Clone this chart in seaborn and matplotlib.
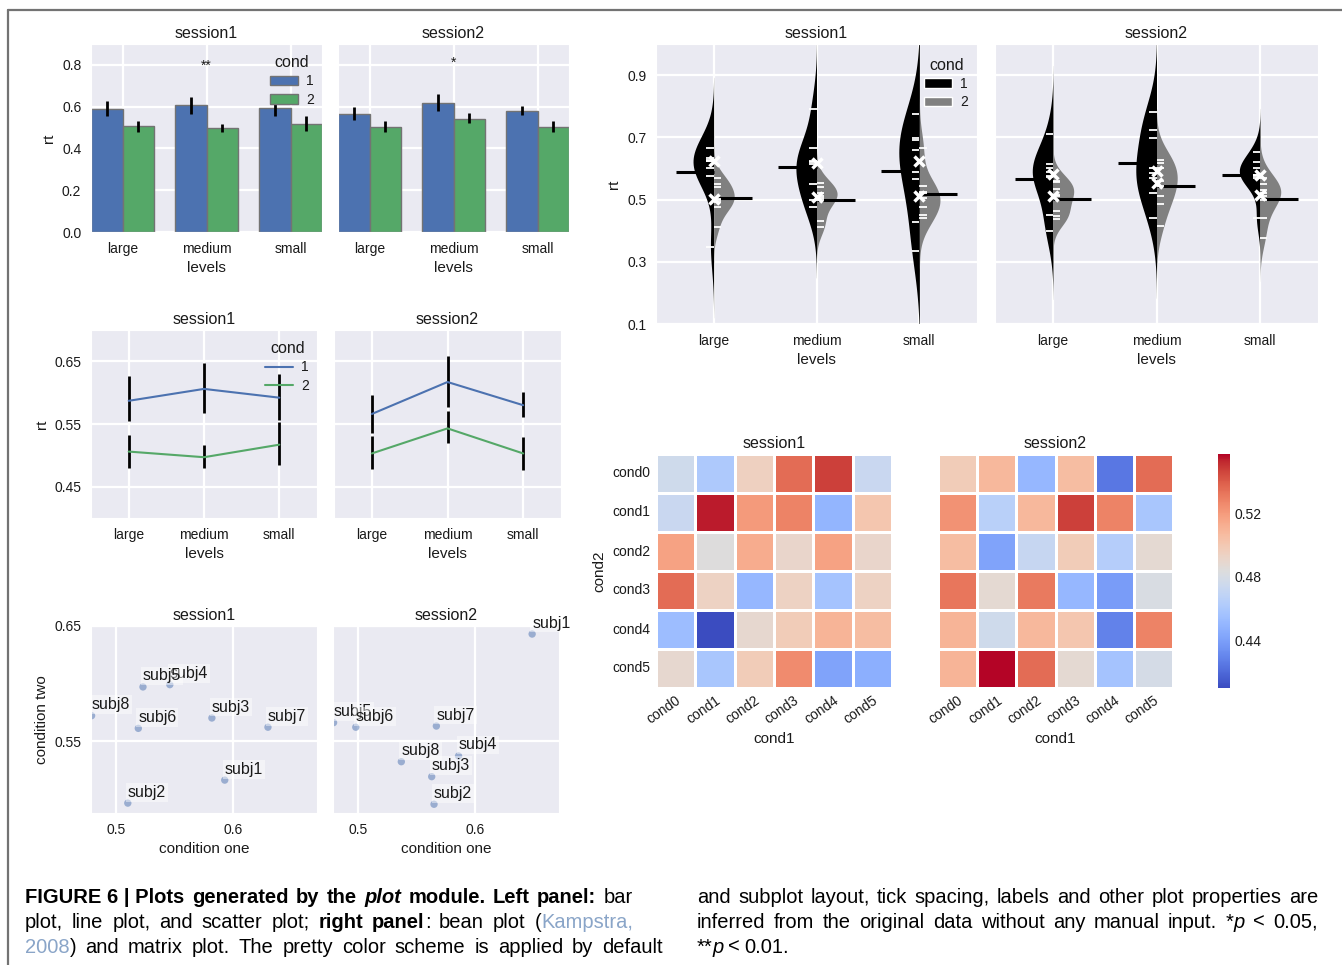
import numpy as np
import pandas as pd
import matplotlib
matplotlib.use("Agg")
import matplotlib.pyplot as plt
import seaborn as sns
from matplotlib.patches import Patch
from matplotlib.lines import Line2D

# ---------------- data ----------------
levels = ["large", "medium", "small"]
conds = ["1", "2"]
sessions = ["session1", "session2"]

# mean rt per level (bar + line plots)
s1_rt_c1 = [0.587, 0.606, 0.592]
s1_rt_c2 = [0.506, 0.497, 0.517]
s2_rt_c1 = [0.566, 0.617, 0.580]
s2_rt_c2 = [0.503, 0.543, 0.503]

# error bar limits
s1_lo_c1 = [0.554, 0.567, 0.556]
s1_hi_c1 = [0.626, 0.647, 0.630]
s1_lo_c2 = [0.480, 0.480, 0.484]
s1_hi_c2 = [0.533, 0.517, 0.553]
s2_lo_c1 = [0.535, 0.577, 0.561]
s2_hi_c1 = [0.597, 0.659, 0.601]
s2_lo_c2 = [0.478, 0.520, 0.477]
s2_hi_c2 = [0.531, 0.570, 0.529]

sig_labels = ["**", "*"]
sig_level = "medium"
sig_y = [0.795, 0.809]

# scatter
subjects = ["subj1", "subj2", "subj3", "subj4", "subj5", "subj6", "subj7", "subj8"]
s1_cond_one = [0.593, 0.510, 0.582, 0.546, 0.523, 0.519, 0.630, 0.4790]
s1_cond_two = [0.516, 0.496, 0.570, 0.599, 0.597, 0.561, 0.562, 0.572]
s2_cond_one = [0.649, 0.565, 0.563, 0.586, 0.4790, 0.498, 0.567, 0.537]
s2_cond_two = [0.643, 0.495, 0.519, 0.537, 0.566, 0.562, 0.563, 0.532]

# bean plot observations
b_s1_large_c1 = [0.665, 0.633, 0.628, 0.625, 0.625, 0.602, 0.575, 0.348]
b_s1_large_c2 = [0.568, 0.551, 0.539, 0.503, 0.498, 0.492, 0.476, 0.413]
b_s1_medium_c1 = [0.790, 0.665, 0.625, 0.620, 0.615, 0.550, 0.500, 0.475]
b_s1_medium_c2 = [0.553, 0.540, 0.520, 0.510, 0.505, 0.500, 0.430, 0.413]
b_s1_small_c1 = [0.775, 0.697, 0.690, 0.660, 0.590, 0.565, 0.428, 0.335]
b_s1_small_c2 = [0.665, 0.545, 0.523, 0.520, 0.506, 0.476, 0.450, 0.440]
b_s2_large_c1 = [0.710, 0.614, 0.600, 0.590, 0.576, 0.572, 0.450, 0.400]
b_s2_large_c2 = [0.560, 0.555, 0.535, 0.515, 0.510, 0.463, 0.448, 0.437]
b_s2_medium_c1 = [0.782, 0.724, 0.697, 0.600, 0.585, 0.570, 0.520, 0.440]
b_s2_medium_c2 = [0.627, 0.617, 0.600, 0.560, 0.545, 0.512, 0.485, 0.414]
b_s2_small_c1 = [0.652, 0.620, 0.600, 0.580, 0.580, 0.576, 0.570, 0.440]
b_s2_small_c2 = [0.568, 0.550, 0.530, 0.522, 0.510, 0.500, 0.442, 0.378]

# matrix plot
cond_labels = ["cond0", "cond1", "cond2", "cond3", "cond4", "cond5"]
hm_s1 = [
    [0.476, 0.461, 0.495, 0.535, 0.547, 0.473],
    [0.473, 0.554, 0.520, 0.528, 0.450, 0.501],
    [0.517, 0.484, 0.513, 0.491, 0.517, 0.491],
    [0.535, 0.494, 0.451, 0.494, 0.457, 0.494],
    [0.454, 0.411, 0.489, 0.498, 0.510, 0.506],
    [0.489, 0.459, 0.498, 0.525, 0.442, 0.447],
]
hm_s2 = [
    [0.498, 0.508, 0.451, 0.506, 0.425, 0.535],
    [0.523, 0.466, 0.508, 0.547, 0.528, 0.459],
    [0.506, 0.442, 0.472, 0.498, 0.464, 0.488],
    [0.532, 0.488, 0.531, 0.451, 0.439, 0.481],
    [0.510, 0.476, 0.508, 0.501, 0.429, 0.528],
    [0.510, 0.557, 0.535, 0.488, 0.457, 0.479],
]
cbar_ticks = [0.44, 0.48, 0.52]

# ---------------- style ----------------
W, H = 1342, 965
sns.set_style("darkgrid", {"axes.facecolor": "#EAEAF2", "grid.color": "white"})
plt.rcParams["font.family"] = ["Liberation Sans", "DejaVu Sans"]
plt.rcParams.update({
    "xtick.labelsize": 10, "ytick.labelsize": 10,
    "axes.labelsize": 11, "axes.titlesize": 11.5, "axes.titlepad": 4.5,
    "grid.linewidth": 1.6, "text.color": "#1a1a1a",
    "axes.labelcolor": "#1a1a1a", "xtick.color": "#1a1a1a", "ytick.color": "#1a1a1a",
})
BLUE, GREEN = "#4C72B0", "#55A868"

fig = plt.figure(figsize=(W / 100, H / 100), dpi=100)


def add_ax(x0, y0, x1, y1):
    return fig.add_axes([x0 / W, 1 - y1 / H, (x1 - x0) / W, (y1 - y0) / H])


rt_means = {("session1", "1"): s1_rt_c1, ("session1", "2"): s1_rt_c2,
            ("session2", "1"): s2_rt_c1, ("session2", "2"): s2_rt_c2}
rt_lo = {("session1", "1"): s1_lo_c1, ("session1", "2"): s1_lo_c2,
         ("session2", "1"): s2_lo_c1, ("session2", "2"): s2_lo_c2}
rt_hi = {("session1", "1"): s1_hi_c1, ("session1", "2"): s1_hi_c2,
         ("session2", "1"): s2_hi_c1, ("session2", "2"): s2_hi_c2}

rows = []
for s in sessions:
    for c in conds:
        for i, lv in enumerate(levels):
            rows.append(dict(session=s, cond=c, levels=lv, rt=rt_means[(s, c)][i],
                             lo=rt_lo[(s, c)][i], hi=rt_hi[(s, c)][i]))
mean_df = pd.DataFrame(rows)

LEG = dict(loc="upper right", frameon=False, fontsize=10, title_fontsize=11.5,
           bbox_to_anchor=(0.99, 0.97), borderaxespad=0, handletextpad=0.6, labelspacing=0.3)

# ---------------- bar plots ----------------
bar_boxes = [(91, 44, 322, 232), (338, 44, 569, 232)]
for k, (sess, box) in enumerate(zip(sessions, bar_boxes)):
    ax = add_ax(*box)
    sub = mean_df[mean_df.session == sess]
    sns.barplot(data=sub, x="levels", y="rt", hue="cond", order=levels, hue_order=conds,
                palette=[BLUE, GREEN], saturation=1, width=0.75, errorbar=None,
                edgecolor="0.45", linewidth=1, ax=ax, legend=False)
    for p in list(ax.patches):
        cx = p.get_x() + p.get_width() / 2
        li = int(round(cx))
        c = conds[0] if cx < li else conds[1]
        r = sub[(sub.levels == levels[li]) & (sub.cond == c)].iloc[0]
        ax.vlines(cx, r.lo, r.hi, color="black", lw=2, zorder=5)
    ax.text(levels.index(sig_level), sig_y[k], sig_labels[k], ha="center", va="center", fontsize=10)
    ax.set_ylim(0, 0.9)
    ax.set_xlim(-0.375, 2.375)
    ax.set_yticks([0.0, 0.2, 0.4, 0.6, 0.8])
    ax.xaxis.grid(True)
    ax.set_title(sess)
    if k == 0:
        handles = [Patch(facecolor=BLUE, edgecolor="0.45", label="1"),
                   Patch(facecolor=GREEN, edgecolor="0.45", label="2")]
        ax.legend(handles=handles, title="cond", **LEG)
    else:
        ax.set_ylabel("")
        ax.tick_params(labelleft=False)

# ---------------- line plots ----------------
line_boxes = [(91, 330, 317, 518), (334, 330, 561, 518)]
for k, (sess, box) in enumerate(zip(sessions, line_boxes)):
    ax = add_ax(*box)
    sub = mean_df[mean_df.session == sess]
    pos = np.arange(len(levels))
    for c in conds:
        r = sub[sub.cond == c]
        ax.vlines(pos, r.lo.values, r.hi.values, color="black", lw=2, zorder=2)
    sns.lineplot(data=sub, x="levels", y="rt", hue="cond", hue_order=conds,
                 palette=[BLUE, GREEN], sort=False, errorbar=None, lw=1.5,
                 ax=ax, legend=False, zorder=3)
    ax.set_xlim(-0.5, 2.5)
    ax.set_ylim(0.40, 0.70)
    ax.set_yticks([0.45, 0.55, 0.65])
    ax.set_title(sess)
    if k == 0:
        handles = [Line2D([], [], color=BLUE, lw=1.5, label="1"),
                   Line2D([], [], color=GREEN, lw=1.5, label="2")]
        ax.legend(handles=handles, title="cond", **LEG)
    else:
        ax.set_ylabel("")
        ax.tick_params(labelleft=False)

# ---------------- scatter plots ----------------
scat_one = {"session1": s1_cond_one, "session2": s2_cond_one}
scat_two = {"session1": s1_cond_two, "session2": s2_cond_two}
scat_boxes = [(91, 626, 317, 813), (333, 626, 559, 813)]
for k, (sess, box) in enumerate(zip(sessions, scat_boxes)):
    ax = add_ax(*box)
    sdf = pd.DataFrame({"subject": subjects, "condition one": scat_one[sess],
                        "condition two": scat_two[sess]})
    sns.scatterplot(data=sdf, x="condition one", y="condition two", ax=ax,
                    color=BLUE, alpha=0.5, s=28, edgecolor="none")
    ax.set_xlim(0.4785, 0.672)
    ax.set_ylim(0.4874, 0.65)
    for _, r in sdf.iterrows():
        ax.annotate(r.subject, (r["condition one"], r["condition two"]), xytext=(0, 2.5),
                    textcoords="offset points", fontsize=11.5, ha="left", va="bottom",
                    annotation_clip=False,
                    bbox=dict(boxstyle="square,pad=0.12", fc="white", ec="none", alpha=0.45))
    ax.set_xticks([0.5, 0.6])
    ax.set_yticks([0.55, 0.65])
    ax.set_title(sess)
    if k != 0:
        ax.set_ylabel("")
        ax.tick_params(labelleft=False)

# ---------------- bean plots ----------------
bean_obs = {
    ("session1", "large", "1"): b_s1_large_c1, ("session1", "large", "2"): b_s1_large_c2,
    ("session1", "medium", "1"): b_s1_medium_c1, ("session1", "medium", "2"): b_s1_medium_c2,
    ("session1", "small", "1"): b_s1_small_c1, ("session1", "small", "2"): b_s1_small_c2,
    ("session2", "large", "1"): b_s2_large_c1, ("session2", "large", "2"): b_s2_large_c2,
    ("session2", "medium", "1"): b_s2_medium_c1, ("session2", "medium", "2"): b_s2_medium_c2,
    ("session2", "small", "1"): b_s2_small_c1, ("session2", "small", "2"): b_s2_small_c2,
}
brows = []
for (s, lv, c), vals in bean_obs.items():
    for v in vals:
        brows.append(dict(session=s, levels=lv, cond=c, rt=v))
bean_df = pd.DataFrame(brows)

bean_boxes = [(656, 44, 977, 324), (995, 44, 1318, 324)]
for k, (sess, box) in enumerate(zip(sessions, bean_boxes)):
    ax = add_ax(*box)
    sub = bean_df[bean_df.session == sess]
    sns.violinplot(data=sub, x="levels", y="rt", hue="cond", order=levels, hue_order=conds,
                   split=True, inner=None, palette=["black", "gray"], saturation=1,
                   cut=3, bw_adjust=1.15, width=0.40, density_norm="width", linewidth=0,
                   ax=ax, legend=False)
    for i, lv in enumerate(levels):
        m1 = rt_means[(sess, "1")][i]
        m2 = rt_means[(sess, "2")][i]
        ax.hlines(m1, i - 0.37, i, color="black", lw=2.2, zorder=4)
        ax.hlines(m2, i, i + 0.37, color="black", lw=2.2, zorder=4)
        o1 = bean_obs[(sess, lv, "1")]
        o2 = bean_obs[(sess, lv, "2")]
        ax.hlines(o1, i - 0.07, i, color="white", lw=1.3, zorder=5)
        ax.hlines(o2, i, i + 0.07, color="white", lw=1.3, zorder=5)
        ax.plot([i, i], [np.median(o1), np.median(o2)], ls="none", marker="x",
                color="white", ms=7, mew=2.5, zorder=6)
    ax.set_xlim(-0.56, 2.56)
    ax.set_ylim(0.1, 1.0)
    ax.set_yticks([0.1, 0.3, 0.5, 0.7, 0.9])
    ax.xaxis.grid(True)
    ax.set_title(sess)
    if k == 0:
        handles = [Patch(facecolor="black", label="1"), Patch(facecolor="gray", label="2")]
        ax.legend(handles=handles, title="cond", **LEG)
    else:
        ax.set_ylabel("")
        ax.tick_params(labelleft=False)

# ---------------- matrix plots ----------------
vmin, vmax = 0.4106, 0.5569
cax = add_ax(1218, 454, 1230, 688)
hm_boxes = [(656, 454, 892, 688), (938, 454, 1173, 688)]
for k, (sess, box, mat) in enumerate(zip(sessions, hm_boxes, [hm_s1, hm_s2])):
    ax = add_ax(*box)
    mdf = pd.DataFrame(mat, index=pd.Index(cond_labels, name="cond2"),
                       columns=pd.Index(cond_labels, name="cond1"))
    sns.heatmap(mdf, ax=ax, cmap="coolwarm", vmin=vmin, vmax=vmax, linewidths=2,
                linecolor="white", cbar=(k == 0), cbar_ax=cax if k == 0 else None,
                cbar_kws={"ticks": cbar_ticks} if k == 0 else None)
    ax.set_title(sess)
    plt.setp(ax.get_xticklabels(), rotation=35, ha="right", rotation_mode="anchor", fontsize=10)
    plt.setp(ax.get_yticklabels(), rotation=0, fontsize=10)
    ax.tick_params(length=0, pad=4)
    if k != 0:
        ax.set_ylabel("")
        ax.set_yticklabels([])
cax.tick_params(labelsize=10, length=0)
cax.yaxis.set_major_formatter(matplotlib.ticker.FormatStrFormatter("%.2f"))
for sp in cax.spines.values():
    sp.set_visible(False)
try:
    cax.collections[0].colorbar.outline.set_visible(False)
except Exception:
    pass

# ---------------- frame lines ----------------
fig.add_artist(Line2D([8 / W, 1], [1 - 10 / H, 1 - 10 / H], color="0.45", lw=1.6))
fig.add_artist(Line2D([8 / W, 8 / W], [0, 1 - 10 / H], color="0.45", lw=1.6))

# ---------------- caption ----------------
renderer = fig.canvas.get_renderer()
CAP = 14.5
CITE = "#8aa5c8"
CAP_FAMILY = ["Liberation Sans Narrow", "Liberation Sans", "DejaVu Sans"]


def words(s, style=""):
    return [[(w, style)] for w in s.split()]


def mk(text, style, size):
    kw = dict(fontsize=size, color="black", va="baseline", ha="left", family=CAP_FAMILY)
    if "b" in style:
        kw["fontweight"] = "bold"
    if "i" in style:
        kw["fontstyle"] = "italic"
    if "c" in style:
        kw["color"] = CITE
    return fig.text(0, 0, text, **kw)


def place(wl, x0, x1, ybase, justify=True):
    size = CAP
    while True:
        objs, widths = [], []
        for w in wl:
            segs, tw = [], 0.0
            for t, s in w:
                o = mk(t, s, size)
                bw = o.get_window_extent(renderer=renderer).width
                segs.append((o, bw))
                tw += bw
            objs.append(segs)
            widths.append(tw)
        gap = (x1 - x0 - sum(widths)) / (len(wl) - 1) if justify else size * 0.3
        if gap >= 3.0 or size < 9:
            break
        for segs in objs:
            for o, _ in segs:
                o.remove()
        size -= 0.5
    x = x0
    for segs, tw in zip(objs, widths):
        xx = x
        for o, bw in segs:
            o.set_position((xx / W, 1 - ybase / H))
            xx += bw
        x += tw + gap


place([[("FIGURE 6 | Plots", "b")]] + words("generated by the", "b") + [[("plot", "bi")]]
      + words("module. Left panel:", "b") + words("bar"), 25, 633, 903)
place(words("plot, line plot, and scatter plot;") + [[("right", "b")], [("panel", "b"), (":", "")]]
      + words("bean plot") + [[("(", ""), ("Kampstra,", "c")]], 25, 633, 928)
place([[("2008", "c"), (")", "")]] + words("and matrix plot. The pretty color scheme is applied by default"),
      25, 663, 953)
place(words("and subplot layout, tick spacing, labels and other plot properties are"), 697, 1318, 903)
place(words("inferred from the original data without any manual input.") + [[("*", ""), ("p", "i")]]
      + words("< 0.05,"), 697, 1318, 928)
place([[("**", ""), ("p", "i")]] + words("< 0.01."), 697, 0, 953, justify=False)

fig.savefig("out.png", dpi=100)
